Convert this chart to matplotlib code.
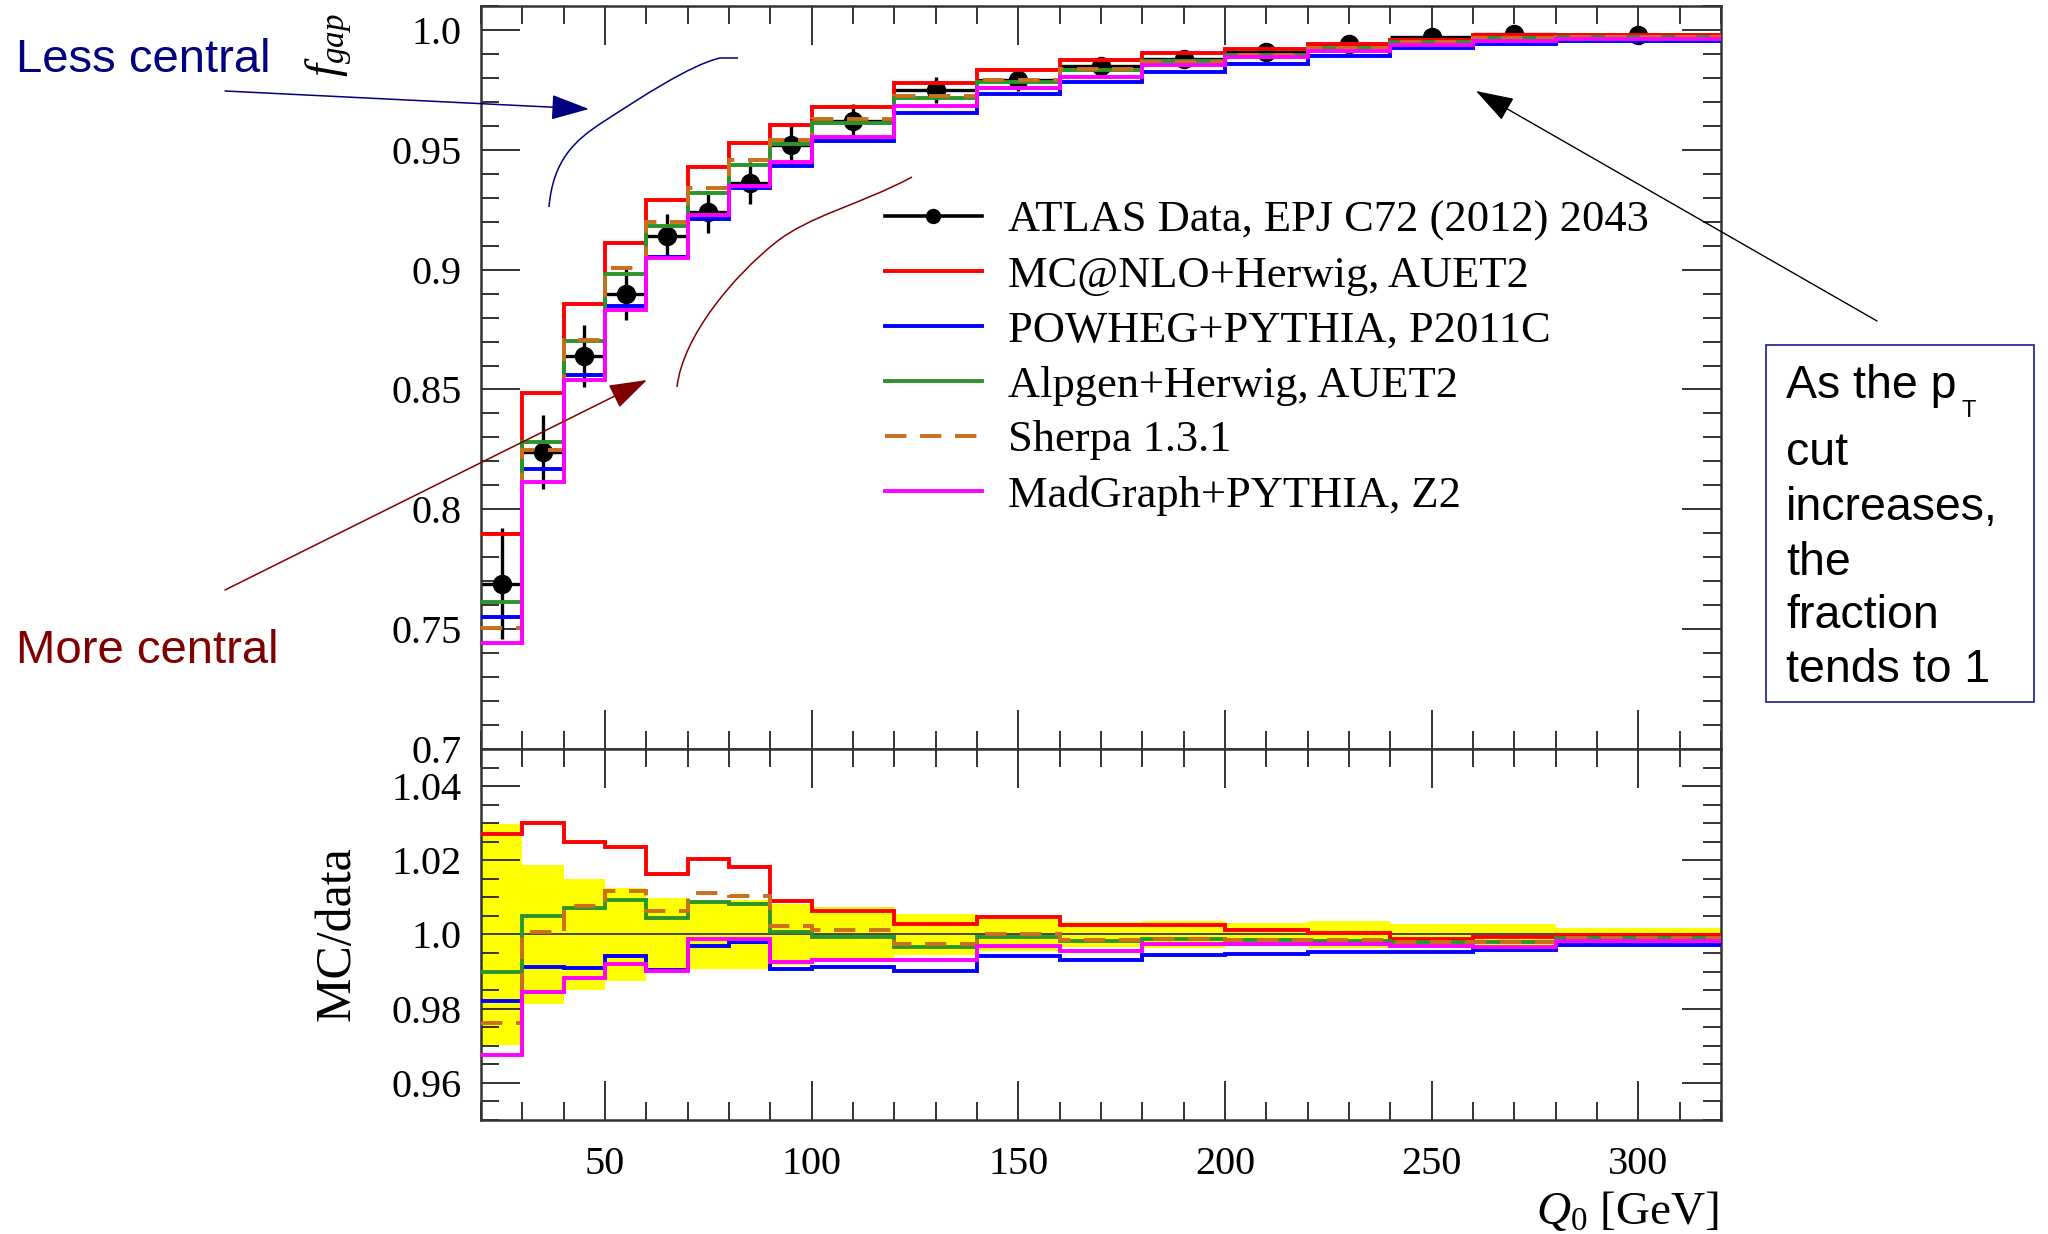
import numpy as np
import matplotlib
matplotlib.use("Agg")
import matplotlib.pyplot as plt
from matplotlib.lines import Line2D
from matplotlib.path import Path
from matplotlib.patches import PathPatch, Rectangle
from matplotlib.ticker import MultipleLocator, FixedLocator

plt.rcParams['font.family'] = ['Liberation Serif', 'DejaVu Serif']
plt.rcParams['mathtext.fontset'] = 'custom'
plt.rcParams['mathtext.rm'] = 'Liberation Serif'
plt.rcParams['mathtext.it'] = 'Liberation Serif:italic'

# ---------------- data ----------------
bin_edges = [20, 30, 40, 50, 60, 70, 80, 90, 100, 120, 140, 160, 180,
             200, 220, 240, 260, 280, 320]

# measured gap fraction and its uncertainty
data_fgap = [0.769, 0.824, 0.864, 0.890, 0.914, 0.924, 0.936, 0.952, 0.962,
             0.975, 0.979, 0.985, 0.988, 0.991, 0.994, 0.997, 0.9985, 0.998]
data_err = [0.023, 0.0155, 0.013, 0.0112, 0.0091, 0.0087, 0.0088, 0.0079,
            0.0071, 0.0054, 0.0044, 0.0034, 0.0036, 0.0032, 0.0035, 0.0027,
            0.0027, 0.0017]

# MC / data ratios
ratio_mcnlo = [1.027, 1.030, 1.025, 1.0237, 1.0164, 1.0204, 1.0182, 1.0089,
               1.0063, 1.0028, 1.0046, 1.0025, 1.0025, 1.0012, 1.0003, 0.9989,
               0.9993, 0.9998]
ratio_powheg = [0.982, 0.9912, 0.9909, 0.9943, 0.9903, 0.997, 0.9981, 0.9907,
                0.9912, 0.9901, 0.9942, 0.993, 0.9945, 0.9948, 0.9953, 0.9953,
                0.9957, 0.9973]
ratio_alpgen = [0.990, 1.0051, 1.0072, 1.0093, 1.0044, 1.0087, 1.0083, 1.0006,
                0.9993, 0.9966, 0.9994, 0.9983, 0.9989, 0.9985, 0.9983, 0.998,
                0.998, 0.999]
ratio_sherpa = [0.9761, 1.0008, 1.0076, 1.0118, 1.0064, 1.0111, 1.0103, 1.0024,
                1.0011, 0.9975, 1.0001, 0.9986, 0.9987, 0.9985, 0.9985, 0.998,
                0.998, 0.9991]
ratio_madgraph = [0.9676, 0.9846, 0.9882, 0.9921, 0.9902, 0.9988, 0.9988,
                  0.9925, 0.9932, 0.9932, 0.9969, 0.9955, 0.9975, 0.9975,
                  0.9974, 0.9968, 0.9967, 0.9983]

legend_labels = ["ATLAS Data, EPJ C72 (2012) 2043",
                 "MC@NLO+Herwig, AUET2",
                 "POWHEG+PYTHIA, P2011C",
                 "Alpgen+Herwig, AUET2",
                 "Sherpa 1.3.1",
                 "MadGraph+PYTHIA, Z2"]

upper_ticks = [0.7, 0.75, 0.8, 0.85, 0.9, 0.95, 1.0]
upper_ticklabels = ["0.7", "0.75", "0.8", "0.85", "0.9", "0.95", "1.0"]
lower_ticks = [0.96, 0.98, 1.0, 1.02, 1.04]
lower_ticklabels = ["0.96", "0.98", "1.0", "1.02", "1.04"]
x_ticks = [50, 100, 150, 200, 250, 300]

box_lines = ["cut", "increases,", "the", "fraction", "tends to 1"]

# ---------------- styling ----------------
W, H = 2048, 1234
edges = np.array(bin_edges, dtype=float)
centers = 0.5 * (edges[1:] + edges[:-1])
halfw = 0.5 * (edges[1:] - edges[:-1])
data = np.array(data_fgap)
err = np.array(data_err)

series = [
    (ratio_mcnlo, '#ff0000', '-'),
    (ratio_powheg, '#0000ff', '-'),
    (ratio_alpgen, '#2a952a', '-'),
    (ratio_sherpa, '#cc6e1c', (0, (5.5, 3.5))),
    (ratio_madgraph, '#ff00ff', '-'),
]

fig = plt.figure(figsize=(W / 100, H / 100), dpi=100)
ax_top = fig.add_axes([481 / W, 1 - 749 / H, 1240 / W, 743 / H])
ax_bot = fig.add_axes([481 / W, 1 - 1120 / H, 1240 / W, 371 / H])

spine_col = '#333333'
for ax in (ax_top, ax_bot):
    ax.set_xlim(20, 320)
    ax.xaxis.set_major_locator(FixedLocator(x_ticks))
    ax.xaxis.set_minor_locator(MultipleLocator(10))
    ax.tick_params(which='both', direction='in', top=True, right=True,
                   color=spine_col, width=1.4, labelsize=29, labelcolor='black')
    ax.tick_params(which='major', length=28)
    ax.tick_params(which='minor', length=13)
    ax.tick_params(axis='y', pad=14)
    for s in ax.spines.values():
        s.set_color(spine_col)
        s.set_linewidth(1.8)

# upper panel
ax_top.set_ylim(0.7, 1.01)
ax_top.yaxis.set_major_locator(FixedLocator(upper_ticks))
ax_top.set_yticklabels(upper_ticklabels)
ax_top.yaxis.set_minor_locator(MultipleLocator(0.01))
ax_top.tick_params(labelbottom=False)

ax_top.errorbar(centers, data, yerr=err, xerr=halfw, fmt='o', color='black',
                ms=13, elinewidth=2.4, capsize=0, zorder=2)
for ratio, col, ls in series:
    ax_top.stairs(data * np.array(ratio), edges, baseline=None, color=col,
                  lw=2.8, linestyle=ls, zorder=3)

handles = [Line2D([], [], color='black', marker='o', ms=10, lw=2.6)]
for ratio, col, ls in series:
    handles.append(Line2D([], [], color=col, lw=2.8, linestyle=ls))
ax_top.legend(handles, legend_labels, loc='upper left',
              bbox_to_anchor=(0.3258, 0.738), frameon=False, fontsize=32,
              handlelength=2.18, handletextpad=0.59, labelspacing=0.33,
              borderpad=0, borderaxespad=0)

# lower panel
ax_bot.set_ylim(0.95, 1.05)
ax_bot.yaxis.set_major_locator(FixedLocator(lower_ticks))
ax_bot.set_yticklabels(lower_ticklabels)
ax_bot.yaxis.set_minor_locator(MultipleLocator(0.005))
ax_bot.set_xticklabels([str(t) for t in x_ticks])
ax_bot.tick_params(axis='x', pad=19)

rel = err / data
ax_bot.stairs(1 + rel, edges, baseline=1 - rel, fill=True, color='#ffff00',
              lw=0, zorder=1)
ax_bot.axhline(1.0, color='#444444', lw=1.4, zorder=2)
for ratio, col, ls in series:
    ax_bot.stairs(np.array(ratio), edges, baseline=None, color=col, lw=2.8,
                  linestyle=ls, zorder=3)

# axis titles
fig.text(329 / W, 1 - 45 / H, r'$f_{gap}$', rotation=90, ha='center',
         va='center', fontsize=34)
fig.text(337 / W, 1 - 934 / H, 'MC/data', rotation=90, ha='center',
         va='center', fontsize=36)
fig.text(1719 / W, 1 - 1212 / H, r'$Q_0$ [GeV]', ha='right', va='center',
         fontsize=34)

# ---------------- annotations in pixel space ----------------
ov = fig.add_axes([0, 0, 1, 1], zorder=10)
ov.set_xlim(0, W)
ov.set_ylim(H, 0)
ov.axis('off')
ov.patch.set_alpha(0)

navy = '#000080'
maroon = '#800000'
sans = 'Liberation Sans'
head = '-|>,head_length=1.0,head_width=0.33'

ov.text(16, 72.5, 'Less central', color=navy, fontsize=34, family=sans,
        va='baseline', ha='left')
ov.annotate('', xy=(589, 109), xytext=(225, 91),
            arrowprops=dict(arrowstyle=head, mutation_scale=24, color=navy,
                            lw=1.1, shrinkA=0, shrinkB=0))
blue_curve = Path([(549, 207), (553, 160), (575, 140), (603, 122),
                   (640, 98), (690, 65), (720, 58), (738, 58)],
                  [Path.MOVETO, Path.CURVE4, Path.CURVE4, Path.CURVE4,
                   Path.CURVE4, Path.CURVE4, Path.CURVE4, Path.LINETO])
ov.add_patch(PathPatch(blue_curve, fill=False, edgecolor=navy, lw=1.1))

ov.text(16, 663, 'More central', color=maroon, fontsize=34, family=sans,
        va='baseline', ha='left')
ov.annotate('', xy=(647, 380), xytext=(225, 590),
            arrowprops=dict(arrowstyle=head, mutation_scale=24, color=maroon,
                            lw=1.1, shrinkA=0, shrinkB=0))
red_curve = Path([(677, 387), (683, 335), (735, 275), (775, 243),
                  (810, 215), (860, 205), (912, 177)],
                 [Path.MOVETO, Path.CURVE4, Path.CURVE4, Path.CURVE4,
                  Path.CURVE4, Path.CURVE4, Path.CURVE4])
ov.add_patch(PathPatch(red_curve, fill=False, edgecolor=maroon, lw=1.1))

ov.annotate('', xy=(1476, 91), xytext=(1877, 321),
            arrowprops=dict(arrowstyle=head, mutation_scale=24, color='black',
                            lw=1.0, shrinkA=0, shrinkB=0))

ov.add_patch(Rectangle((1766, 344.5), 268, 357, fill=False,
                       edgecolor='#2e2e96', lw=1.3))
ov.text(1786, 398, 'As the p', fontsize=33.5, family=sans, va='baseline',
        ha='left', color='black')
ov.text(1961, 417, 'T', fontsize=17, family=sans, va='baseline', ha='left',
        color='black')
for txt, yb in zip(box_lines, [465, 520, 575, 628, 682]):
    ov.text(1786, yb, txt, fontsize=33.5, family=sans, va='baseline',
            ha='left', color='black')

fig.savefig('out.png', dpi=100, facecolor='white')
